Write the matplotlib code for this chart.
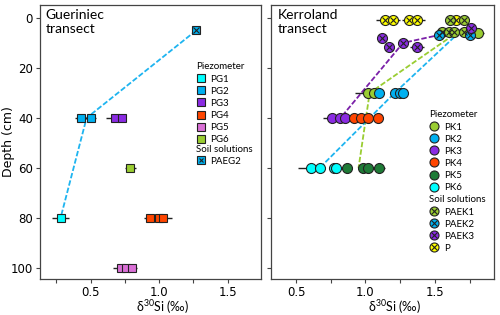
import matplotlib
matplotlib.use("Agg")
import matplotlib.pyplot as plt
from matplotlib.lines import Line2D

plt.rcParams["mathtext.default"] = "regular"
TXT = ["Lato", "DejaVu Sans"]

# ---- Gueriniec transect (left) ----
pg1_x, pg1_d, pg1_e = [0.28], [80], [0.065]
pg2_x, pg2_d, pg2_e = [0.43, 0.50], [40, 40], [0.045, 0.04]
pg3_x, pg3_d, pg3_e = [0.68, 0.73], [40, 40], [0.07, 0.03]
pg4_x, pg4_d, pg4_e = [0.93, 1.00, 1.03], [80, 80, 80], [0.04, 0.05, 0.06]
pg5_x, pg5_d, pg5_e = [0.72, 0.76, 0.80], [100, 100, 100], [0.06, 0.05, 0.035]
pg6_x, pg6_d, pg6_e = [0.79], [60], [0.04]
paeg2_x, paeg2_d, paeg2_e = [1.27], [5], [0.03]
g_line_x, g_line_d = [1.27, 0.47, 0.28], [5, 40, 80]

# ---- Kerroland transect (right) ----
p_x = [1.14, 1.20, 1.31, 1.37, 1.65]
p_d = [1, 1, 1, 1, 1]
p_e = [0.065, 0.05, 0.05, 0.06, 0.03]
paek1_x = [1.61, 1.71, 1.55, 1.60, 1.64, 1.71]
paek1_d = [1, 1, 5.5, 5.5, 5.5, 5.5]
paek1_e = [0.03, 0.03, 0.04, 0.03, 0.03, 0.03]
paek2_x, paek2_d, paek2_e = [1.53, 1.75], [7, 7], [0.03, 0.03]
paek3_x = [1.12, 1.17, 1.27, 1.37, 1.76]
paek3_d = [8, 11.5, 10, 11.5, 4]
paek3_e = [0.03, 0.03, 0.03, 0.05, 0.04]
pk1_x, pk1_d, pk1_e = [1.02, 1.06, 1.81], [30, 30, 6], [0.095, 0.03, 0.04]
pk2_x, pk2_d, pk2_e = [1.10, 1.21, 1.25, 1.27], [30, 30, 30, 30], [0.03, 0.03, 0.03, 0.035]
pk3_x, pk3_d, pk3_e = [0.76, 0.82, 0.85], [40, 40, 40], [0.065, 0.03, 0.03]
pk4_x, pk4_d, pk4_e = [0.92, 0.97, 1.02, 1.09], [40, 40, 40, 40], [0.03, 0.03, 0.03, 0.03]
pk5_x, pk5_d, pk5_e = [0.87, 0.98, 1.02, 1.10], [60, 60, 60, 60], [0.03, 0.03, 0.03, 0.04]
pk6_x, pk6_d, pk6_e = [0.61, 0.67, 0.77, 0.79], [60, 60, 60, 60], [0.095, 0.03, 0.03, 0.03]
k1_line_x, k1_line_d = [1.68, 1.03, 0.95], [5, 30, 60]
k2_line_x, k2_line_d = [1.68, 1.21, 0.67], [5.5, 30, 60]
k3_line_x, k3_line_d = [1.76, 1.27, 0.82], [4, 10, 40]

C_PG1 = "#00ffff"
C_PG2 = "#00b0f0"
C_PG3 = "#8a2be2"
C_PG4 = "#ff4500"
C_PG5 = "#da70d6"
C_PG6 = "#9acd32"
C_PK5 = "#1e7b36"
C_P = "#ffff00"
C_LBLUE = "#1eb4f0"
C_LGREEN = "#9acd32"
C_LPURP = "#7a1fa8"

fig = plt.figure(figsize=(5, 3.15), dpi=100)
ax1 = fig.add_axes([0.08, 0.1143, 0.442, 0.87])
ax2 = fig.add_axes([0.542, 0.1143, 0.446, 0.87])


def points(ax, x, d, e, color, marker, ms, crossed=False):
    ax.errorbar(x, d, xerr=e, fmt="none", ecolor="#222222", elinewidth=1.0,
                capsize=0, zorder=2)
    ax.plot(x, d, linestyle="none", marker=marker, ms=ms, mfc=color,
            mec="#222222", mew=0.8, zorder=3)
    if crossed:
        ax.plot(x, d, linestyle="none", marker="x", ms=ms * 0.6, mec="#222222",
                mew=0.8, zorder=4)


def mean_line(ax, x, d, color):
    ax.plot(x, d, color=color, lw=1.3, dashes=(3, 1.2), zorder=1)


def handle(color, marker, ms, crossed=False):
    if crossed:
        return (Line2D([], [], ls="none", marker=marker, ms=ms, mfc=color,
                       mec="#222222", mew=0.8),
                Line2D([], [], ls="none", marker="x", ms=ms * 0.6,
                       mec="#222222", mew=0.8))
    return Line2D([], [], ls="none", marker=marker, ms=ms, mfc=color,
                  mec="#222222", mew=0.8)


# left panel
mean_line(ax1, g_line_x, g_line_d, C_LBLUE)
sq = 6.3
points(ax1, pg1_x, pg1_d, pg1_e, C_PG1, "s", sq)
points(ax1, pg2_x, pg2_d, pg2_e, C_PG2, "s", sq)
points(ax1, pg3_x, pg3_d, pg3_e, C_PG3, "s", sq)
points(ax1, pg4_x, pg4_d, pg4_e, C_PG4, "s", sq)
points(ax1, pg5_x, pg5_d, pg5_e, C_PG5, "s", sq)
points(ax1, pg6_x, pg6_d, pg6_e, C_PG6, "s", sq)
points(ax1, paeg2_x, paeg2_d, paeg2_e, C_PG2, "s", sq, crossed=True)

# right panel
mean_line(ax2, k1_line_x, k1_line_d, C_LGREEN)
mean_line(ax2, k2_line_x, k2_line_d, C_LBLUE)
mean_line(ax2, k3_line_x, k3_line_d, C_LPURP)
ci = 7.2
points(ax2, p_x, p_d, p_e, C_P, "o", ci, crossed=True)
points(ax2, paek1_x, paek1_d, paek1_e, C_PG6, "o", ci, crossed=True)
points(ax2, pk1_x, pk1_d, pk1_e, C_PG6, "o", ci)
points(ax2, paek2_x, paek2_d, paek2_e, C_PG2, "o", ci, crossed=True)
points(ax2, paek3_x, paek3_d, paek3_e, C_PG3, "o", ci, crossed=True)
points(ax2, pk2_x, pk2_d, pk2_e, C_PG2, "o", ci)
points(ax2, pk3_x, pk3_d, pk3_e, C_PG3, "o", ci)
points(ax2, pk4_x, pk4_d, pk4_e, C_PG4, "o", ci)
points(ax2, pk5_x, pk5_d, pk5_e, C_PK5, "o", ci)
points(ax2, pk6_x, pk6_d, pk6_e, C_PG1, "o", ci)

for ax in (ax1, ax2):
    ax.set_ylim(104.4, -5.2)
    ax.set_yticks([0, 20, 40, 60, 80, 100])
    ax.set_xticks([0.5, 1.0, 1.5])
    ax.set_xticklabels(["0.5", "1.0", "1.5"])
    ax.tick_params(axis="both", which="major", labelsize=8.5, length=3,
                   width=0.8, color="#444444", pad=2)
    ax.tick_params(axis="x", which="minor", length=3, width=0.8, color="#444444")
    for s in ax.spines.values():
        s.set_color("#444444")
        s.set_linewidth(0.9)
    ax.set_xlabel(r"δ$^{30}$Si (‰)", family=TXT, fontsize=9, labelpad=0)

ax1.set_xlim(0.13, 1.743)
ax2.set_xlim(0.32, 1.925)
ax1.set_xticks([0.25, 0.75, 1.25], minor=True)
ax2.set_xticks([0.75, 1.25, 1.75], minor=True)
ax1.xaxis.set_label_coords(0.554, -0.07)
ax2.xaxis.set_label_coords(0.555, -0.07)
ax2.set_yticklabels([])
ax1.set_ylabel("Depth (cm)", fontsize=9)
ax1.yaxis.set_label_coords(-0.112, 0.5)

ax1.text(0.025, 0.985, "Gueriniec\ntransect", transform=ax1.transAxes,
         family=TXT, fontsize=10, va="top", ha="left", linespacing=1.2)
ax2.text(0.03, 0.985, "Kerroland\ntransect", transform=ax2.transAxes,
         family=TXT, fontsize=10, va="top", ha="left", linespacing=1.2)

leg_kw = dict(frameon=False, prop={"family": TXT, "size": 7}, title_fontproperties={"family": TXT, "size": 7},
              loc="upper left", borderpad=0, borderaxespad=0, handlelength=1.0,
              handletextpad=0.5, labelspacing=0.32, alignment="left")

# left legends
lh1 = [handle(c, "s", 5.8) for c in (C_PG1, C_PG2, C_PG3, C_PG4, C_PG5, C_PG6)]
l1 = ax1.legend(lh1, ["PG1", "PG2", "PG3", "PG4", "PG5", "PG6"], title="Piezometer",
                bbox_to_anchor=(0.705, 0.79), **leg_kw)
ax1.add_artist(l1)
ax1.legend([handle(C_PG2, "s", 5.8, True)], ["PAEG2"], title="Soil solutions",
           bbox_to_anchor=(0.705, 0.49), **leg_kw)

# right legends
lh2 = [handle(c, "o", 6.5) for c in (C_PG6, C_PG2, C_PG3, C_PG4, C_PK5, C_PG1)]
l2 = ax2.legend(lh2, ["PK1", "PK2", "PK3", "PK4", "PK5", "PK6"], title="Piezometer",
                bbox_to_anchor=(0.71, 0.615), **leg_kw)
ax2.add_artist(l2)
ax2.legend([handle(C_PG6, "o", 6.5, True), handle(C_PG2, "o", 6.5, True),
            handle(C_PG3, "o", 6.5, True), handle(C_P, "o", 6.5, True)],
           ["PAEK1", "PAEK2", "PAEK3", "P"], title="Soil solutions",
           bbox_to_anchor=(0.71, 0.305), **leg_kw)

fig.savefig("out.png", dpi=100)
